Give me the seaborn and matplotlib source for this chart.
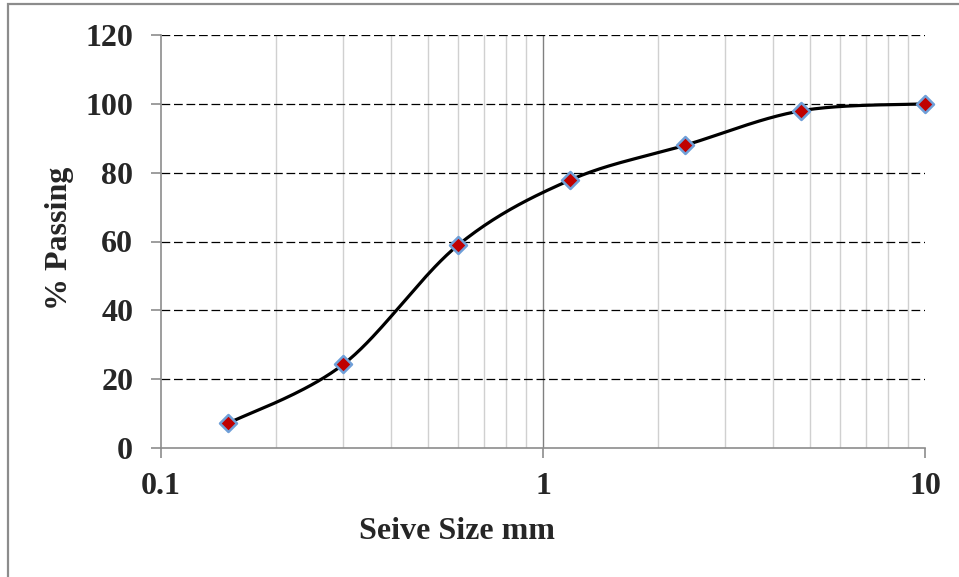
import numpy as np
import pandas as pd
import matplotlib
matplotlib.use("Agg")
import matplotlib.pyplot as plt
import seaborn as sns
from matplotlib.patches import Rectangle

sieve_mm = [0.15, 0.3, 0.6, 1.18, 2.36, 4.75, 10.0]
passing = [7.2, 24.3, 59.0, 77.9, 88.0, 98.0, 100.0]
y_ticks = [0, 20, 40, 60, 80, 100, 120]
x_ticks = [0.1, 1, 10]
x_tick_labels = ["0.1", "1", "10"]

sns.set_theme(style="white")
plt.rcParams['font.family'] = ['Liberation Serif', 'DejaVu Serif']

fig = plt.figure(figsize=(9.59, 5.77), dpi=100)
ax = fig.add_axes([161/959, 1-448/577, (925-161)/959, (448-35)/577])

# smooth curve (Excel-style bezier through points in display space)
W_DEC = 382.0
H_UNIT = 413.0/120
u = np.log10(sieve_mm) * W_DEC
v = np.array(passing) * H_UNIT
P = np.column_stack([u, v])
n = len(P)
curve = []
for i in range(n-1):
    p0 = P[max(i-1, 0)]
    p1 = P[i]
    p2 = P[i+1]
    p3 = P[min(i+2, n-1)]
    c1 = p1 + (p2 - p0)/6.0
    c2 = p2 - (p3 - p1)/6.0
    t = np.linspace(0, 1, 40)[:, None]
    seg = ((1-t)**3)*p1 + 3*((1-t)**2)*t*c1 + 3*(1-t)*(t**2)*c2 + (t**3)*p2
    curve.append(seg if i == 0 else seg[1:])
curve = np.vstack(curve)
cx = 10**(curve[:, 0]/W_DEC)
cy = curve[:, 1]/H_UNIT
ax.plot(cx, cy, color="black", lw=2.3, solid_capstyle="round", zorder=3)

df = pd.DataFrame({"size": sieve_mm, "passing": passing})
sns.scatterplot(data=df, x="size", y="passing", ax=ax, marker="D", s=75,
                color="#c00000", edgecolor="#6f9fd8", linewidth=1.8, zorder=4,
                clip_on=False)

ax.set_xscale("log")
ax.set_xlim(0.1, 10)
ax.set_ylim(0, 120)
ax.set_yticks(y_ticks)
ax.set_yticklabels([str(t) for t in y_ticks])
ax.set_xticks(x_ticks)
ax.set_xticklabels(x_tick_labels)
ax.xaxis.set_minor_locator(matplotlib.ticker.LogLocator(base=10, subs=np.arange(2, 10)))
ax.xaxis.set_minor_formatter(matplotlib.ticker.NullFormatter())

# gridlines
for yt in y_ticks[1:]:
    ax.axhline(yt, color="black", lw=0.9, ls=(0, (7, 3)), zorder=1)
ax.grid(False)
ax.xaxis.grid(True, which="minor", color="#d0d0d0", lw=1.0, zorder=0)
ax.axvline(1, color="#808080", lw=1.0, zorder=0.5)

for s in ["top", "right"]:
    ax.spines[s].set_visible(False)
for s in ["left", "bottom"]:
    ax.spines[s].set_color("#8c8c8c")
    ax.spines[s].set_linewidth(1.2)

ax.tick_params(axis="both", which="major", direction="out", length=7, width=1.2,
               color="#8c8c8c", labelsize=23, left=True, bottom=True)
ax.tick_params(axis="x", which="major", pad=10)
ax.tick_params(axis="y", which="major", pad=13)
ax.tick_params(axis="x", which="minor", length=0)
for lab in ax.get_xticklabels() + ax.get_yticklabels():
    lab.set_fontweight("bold")

ax.set_xlabel("Seive Size mm", fontsize=23, fontweight="bold")
ax.set_ylabel("% Passing", fontsize=23, fontweight="bold")
ax.xaxis.set_label_coords((457-161)/764, (448-517)/413)
ax.yaxis.set_label_coords((74-161)/764, (448-238)/413)

fig.patches.append(Rectangle((8/959, -0.05), 1.2, 1-4/577+0.05, transform=fig.transFigure,
                             fill=False, edgecolor="#8c8c8c", lw=1.6))

fig.savefig("out.png", dpi=100)
